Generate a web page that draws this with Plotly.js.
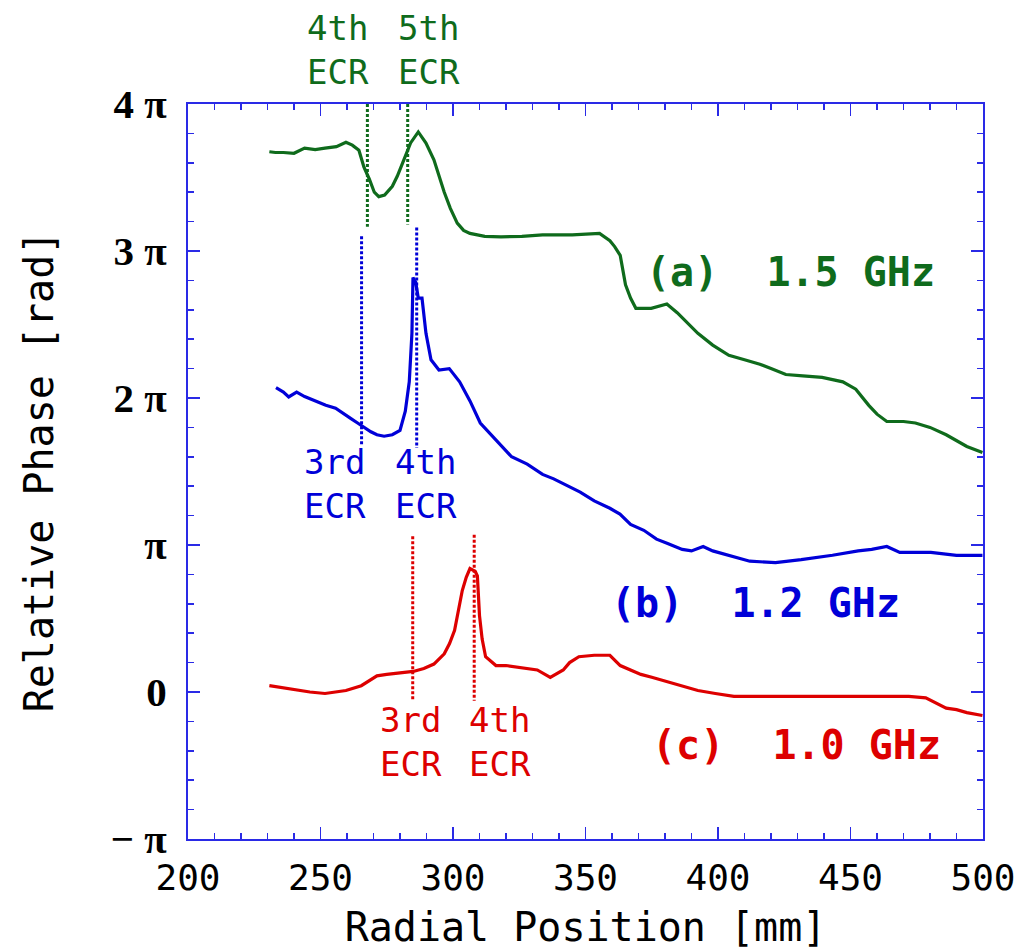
<!DOCTYPE html>
<html>
<head>
<meta charset="utf-8">
<script src="https://cdn.plot.ly/plotly-3.0.1.min.js"></script>
<style>html,body{margin:0;padding:0;background:#fff;}</style>
</head>
<body>
<div id="chart" style="width:1030px;height:950px;"></div>
<script>
// Radial position [mm] and relative phase (in units of pi)
const xA = [230.7,233,236,240,244,248,251.7,256,259.6,262,264.5,266.4,268.4,270.3,272,274.2,277.1,279,281,284,286.9,289.8,292.8,296.7,299,301.6,304,306.4,312,318.1,326,333.8,345,355.3,359.2,361,363.1,365.1,367,369,374.8,380.7,384.6,388,392.4,398,404.1,410,415.8,420,425.6,432,439.3,447.1,452,456.9,460,463.7,470,474.5,480,486.1,493.9,499.8];
const yA = [3.675,3.67,3.67,3.665,3.70,3.69,3.70,3.71,3.74,3.72,3.685,3.57,3.49,3.40,3.37,3.38,3.44,3.51,3.60,3.735,3.81,3.735,3.62,3.40,3.29,3.19,3.14,3.12,3.10,3.096,3.10,3.11,3.11,3.12,3.07,3.03,2.97,2.77,2.68,2.61,2.61,2.64,2.58,2.52,2.44,2.36,2.29,2.26,2.23,2.20,2.16,2.15,2.14,2.11,2.06,1.95,1.89,1.84,1.84,1.83,1.80,1.75,1.67,1.63];

const xB = [233.2,236,238,241,244,247.8,252,255.7,258,261.5,264,266.4,269,271.3,274,277.1,280,282,283.5,284.5,284.9,285.4,285.9,286.9,288.3,289.8,291.7,294.7,298.6,302.5,306.4,310.3,314.3,318,322.1,328,333.8,338,343.6,348,353.3,359.2,363,367,372,376.8,381,386.5,390,394.4,398,404.1,412,421.7,431.4,443.2,452.9,458,463.7,468.6,474,480.3,490,499.8];
const yB = [2.07,2.04,2.007,2.04,2.01,1.98,1.95,1.93,1.90,1.86,1.83,1.80,1.77,1.75,1.74,1.75,1.78,1.91,2.11,2.44,2.82,2.80,2.79,2.68,2.68,2.44,2.26,2.19,2.20,2.11,1.98,1.83,1.75,1.68,1.60,1.55,1.48,1.45,1.40,1.36,1.30,1.25,1.21,1.14,1.10,1.04,1.01,0.97,0.96,0.99,0.96,0.93,0.89,0.88,0.90,0.93,0.96,0.97,0.99,0.95,0.95,0.95,0.93,0.93];

const xC = [230.7,235,240,246,251.7,259.6,265.4,268,271.3,275,279.1,285,289,292.8,296.7,298.7,300.6,302,303.5,305,306.4,308.4,309.2,310,311,312.3,316.2,320,324,331.8,336.7,341.6,344,347.5,353.3,359.2,363.1,367,370.9,375,380.7,386,392.4,399,406,421.7,441.2,456.9,466.7,472,478.4,482,486.1,490,493.9,499.8];
const yC = [0.043,0.03,0.02,0.00,-0.01,0.01,0.043,0.07,0.11,0.12,0.13,0.14,0.16,0.19,0.26,0.33,0.42,0.55,0.69,0.78,0.84,0.82,0.79,0.52,0.36,0.24,0.18,0.18,0.17,0.15,0.10,0.15,0.20,0.24,0.25,0.25,0.18,0.15,0.12,0.10,0.07,0.04,0.01,-0.01,-0.03,-0.03,-0.03,-0.03,-0.03,-0.03,-0.04,-0.07,-0.11,-0.12,-0.14,-0.16];

// ECR resonance markers (x in mm, vertical extent in units of pi)
const ecrGreenX = [267.7, 282.9];
const ecrGreenTop = [4.0, 4.0];
const ecrGreenBottom = [3.165, 3.18];
const ecrBlueX = [265.5, 286.3];
const ecrBlueTop = [3.10, 3.16];
const ecrBlueBottom = [1.68, 1.66];
const ecrRedX = [284.8, 308.0];
const ecrRedTop = [1.06, 1.07];
const ecrRedBottom = [-0.05, -0.06];

const ytickVals = [-1, 0, 1, 2, 3, 4];
const ytickText = ['\u2212 \u03c0', '0', '\u03c0', '2 \u03c0', '3 \u03c0', '4 \u03c0'];

const GREEN = '#0f6b1c';
const BLUE = '#0000d8';
const RED = '#dd0000';
const FRAME = '#2a2ae6';
const MONO = '"DejaVu Sans Mono", "Liberation Mono", monospace';

const traces = [];
function ecrLines(xs, tops, bottoms, color) {
  for (let i = 0; i < xs.length; i++) {
    traces.push({x: [xs[i], xs[i]], y: [tops[i], bottoms[i]], mode: 'lines', type: 'scatter',
      line: {color: color, width: 3, dash: '3px,2px'}, hoverinfo: 'skip', showlegend: false, cliponaxis: false});
  }
}
ecrLines(ecrGreenX, ecrGreenTop, ecrGreenBottom, GREEN);
ecrLines(ecrBlueX, ecrBlueTop, ecrBlueBottom, BLUE);
ecrLines(ecrRedX, ecrRedTop, ecrRedBottom, RED);
traces.push({x: xA, y: yA, mode: 'lines', type: 'scatter', line: {color: GREEN, width: 3.2}, showlegend: false});
traces.push({x: xB, y: yB, mode: 'lines', type: 'scatter', line: {color: BLUE, width: 3.2}, showlegend: false});
traces.push({x: xC, y: yC, mode: 'lines', type: 'scatter', line: {color: RED, width: 3.2}, showlegend: false});

function ann(x, y, text, color, size, bold, yref) {
  return {x: x, y: y, xref: 'x', yref: yref || 'y', text: text, showarrow: false,
    font: {family: MONO, size: size, color: color, weight: bold ? 'bold' : 'normal'},
    xanchor: 'center', yanchor: 'middle', align: 'center'};
}

const layout = {
  width: 1030, height: 950,
  margin: {l: 188, r: 47, t: 104, b: 111},
  paper_bgcolor: '#ffffff', plot_bgcolor: '#ffffff',
  showlegend: false,
  xaxis: {
    range: [200, 500], dtick: 50, tick0: 200,
    showline: true, linecolor: FRAME, linewidth: 2, mirror: 'ticks',
    ticks: 'inside', ticklen: 12, tickwidth: 1.5, tickcolor: FRAME,
    minor: {dtick: 10, ticks: 'inside', ticklen: 6, tickwidth: 1.5, tickcolor: FRAME, showgrid: false},
    showgrid: false, zeroline: false,
    ticklabelstandoff: 6,
    tickfont: {family: MONO, size: 36, color: '#000'},
    title: {text: 'Radial Position [mm]', font: {family: MONO, size: 40, color: '#000'}, standoff: 18}
  },
  yaxis: {
    range: [-1, 4], tickvals: ytickVals, ticktext: ytickText,
    showline: true, linecolor: FRAME, linewidth: 2, mirror: 'ticks',
    ticks: 'inside', ticklen: 12, tickwidth: 1.5, tickcolor: FRAME,
    minor: {dtick: 0.2, tick0: 0, ticks: 'inside', ticklen: 6, tickwidth: 1.5, tickcolor: FRAME, showgrid: false},
    showgrid: false, zeroline: false,
    ticklabelstandoff: 11,
    tickfont: {family: '"Liberation Serif", "DejaVu Serif", serif', size: 41, color: '#000', weight: 'bold'},
    title: {text: 'Relative Phase [rad]', font: {family: MONO, size: 40, color: '#000'}, standoff: 45}
  },
  annotations: [
    ann(256.6, 1.0735, '4th<br>ECR', GREEN, 34, false, 'paper'),
    ann(290.9, 1.0735, '5th<br>ECR', GREEN, 34, false, 'paper'),
    ann(255.5, 1.415, '3rd<br>ECR', BLUE, 34, false),
    ann(289.8, 1.415, '4th<br>ECR', BLUE, 34, false),
    ann(284.2, -0.34, '3rd<br>ECR', RED, 34, false),
    ann(317.7, -0.34, '4th<br>ECR', RED, 34, false),
    ann(427.2, 2.857, '(a)  1.5 GHz', GREEN, 40, true),
    ann(414.0, 0.605, '(b)  1.2 GHz', BLUE, 40, true),
    ann(429.8, -0.361, '(c)  1.0 GHz', RED, 40, true)
  ]
};

Plotly.newPlot('chart', traces, layout, {displayModeBar: false, staticPlot: true});
</script>
</body>
</html>
